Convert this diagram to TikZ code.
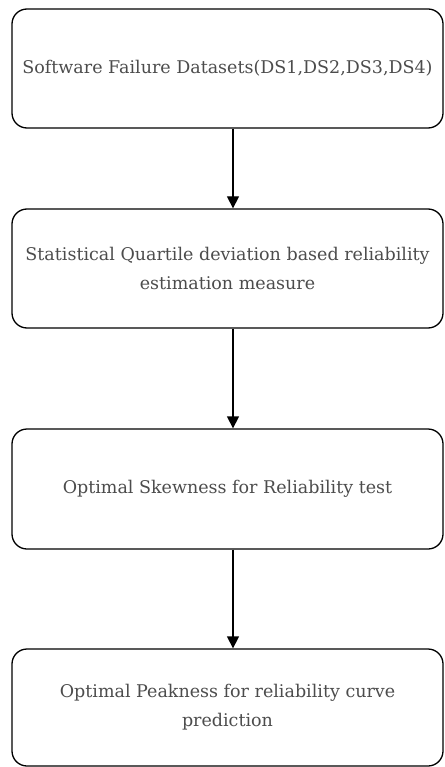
\documentclass[tikz,border=0pt]{standalone}
\usepackage{fontspec}
\setmainfont{DejaVu Serif}
\usetikzlibrary{arrows.meta,calc}
\tikzset{
  stepbox/.style={draw=black, line width=1.3pt, rounded corners=15pt, minimum width=431pt, align=center, text=black!70, font=\fontsize{17.5}{29}\selectfont, inner sep=0pt},
  flowarrow/.style={line width=1.3pt, -{Triangle[width=12pt,length=12pt]}}
}
\begin{document}
\begin{tikzpicture}[x=1pt,y=1pt]
\useasboundingbox (0,0) rectangle (444,-767);
\node[stepbox, minimum height=119pt] (b1) at (227.5,-68.5) {Software Failure Datasets(DS1,DS2,DS3,DS4)};
\node[stepbox, minimum height=119pt] (b2) at (227.5,-268.5) {Statistical Quartile deviation based reliability\\estimation measure};
\node[stepbox, minimum height=120pt] (b3) at (227.5,-489) {Optimal Skewness for Reliability test};
\node[stepbox, minimum height=117pt] (b4) at (227.5,-707.5) {Optimal Peakness for reliability curve\\prediction};
\coordinate (ax) at (233,0);
\draw[flowarrow] (b1.south -| ax) -- (b2.north -| ax);
\draw[flowarrow] (b2.south -| ax) -- (b3.north -| ax);
\draw[flowarrow] (b3.south -| ax) -- (b4.north -| ax);
\end{tikzpicture}
\end{document}
